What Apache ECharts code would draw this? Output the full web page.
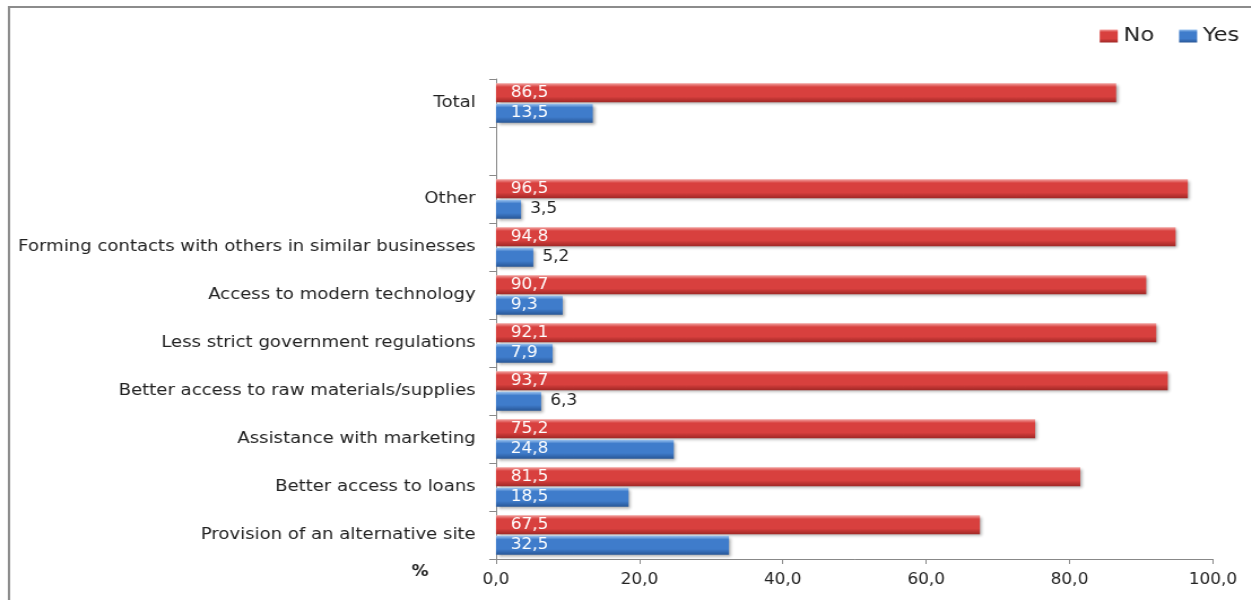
<!DOCTYPE html>
<html>
<head>
<meta charset="utf-8">
<script src="https://cdn.jsdelivr.net/npm/echarts@6/dist/echarts.min.js"></script>
<style>
  html, body { margin: 0; padding: 0; background: #fff; overflow: hidden; }
  #wrap { width: 1251px; height: 600px; overflow: hidden; }
  /* the chart is laid out narrower and widened, giving the broad lettering */
  #chart { width: 1107px; height: 600px; transform: scaleX(1.13); transform-origin: 0 0; }
</style>
</head>
<body>
<div id="wrap"><div id="chart"></div></div>
<script>
// Categories listed bottom to top (category y axis starts at the bottom)
const categories = [
  'Provision of an alternative site',
  'Better access to loans',
  'Assistance with marketing',
  'Better access to raw materials/supplies',
  'Less strict government regulations',
  'Access to modern technology',
  'Forming contacts with others in similar businesses',
  'Other',
  '',
  'Total'
];
const noValues  = [67.5, 81.5, 75.2, 93.7, 92.1, 90.7, 94.8, 96.5, null, 86.5];
const yesValues = [32.5, 18.5, 24.8, 6.3, 7.9, 9.3, 5.2, 3.5, null, 13.5];
const xTicks = { min: 0, max: 100, interval: 20 };

const S = 1.13;               // horizontal widening applied to the chart box
const px = v => v / S;        // page x -> chart x
const FONT = 'DejaVu Sans';
const fmt = v => v.toFixed(1).replace('.', ',');

function barGradient(light, mid, dark) {
  return new echarts.graphic.LinearGradient(0, 0, 0, 1, [
    { offset: 0, color: light },
    { offset: 0.2, color: mid },
    { offset: 0.7, color: mid },
    { offset: 1, color: dark }
  ]);
}
const redFill = barGradient('#f4a3a1', '#d8403e', '#a02826');
const blueFill = barGradient('#9cc4f0', '#3f7ccb', '#285797');

// Short bars get their label just outside, in dark text
function withLabels(values) {
  return values.map(v => {
    if (v == null) return v;
    const small = v < 7;
    return {
      value: v,
      label: small
        ? { position: 'right', color: '#222', distance: 8 }
        : { position: 'insideLeft', color: '#fff', distance: 13 }
    };
  });
}

const barShadow = {
  shadowColor: 'rgba(0,0,0,0.35)', shadowBlur: 3, shadowOffsetX: 2, shadowOffsetY: 2
};

const chart = echarts.init(document.getElementById('chart'));
chart.setOption({
  animation: false,
  textStyle: { fontFamily: FONT },
  graphic: [
    {
      type: 'rect',
      shape: { x: px(9), y: 7, width: 1400, height: 800 },
      style: { fill: 'none', stroke: '#8c8c8c', lineWidth: 2 },
      silent: true
    },
    {
      type: 'text',
      x: px(420), y: 572,
      style: {
        text: '%', fontFamily: FONT, fontSize: 15, fontWeight: 'bold', fill: '#222',
        align: 'center', verticalAlign: 'middle'
      }
    }
  ],
  legend: {
    right: px(6), top: 21,
    itemWidth: 16, itemHeight: 13, itemGap: 22,
    icon: 'rect',
    textStyle: { fontFamily: FONT, fontSize: 20, color: '#222' },
    data: ['No', 'Yes']
  },
  grid: { left: px(496), right: px(38), top: 79, bottom: 41, containLabel: false },
  xAxis: {
    type: 'value',
    min: xTicks.min, max: xTicks.max, interval: xTicks.interval,
    axisLine: { show: true, lineStyle: { color: '#888', width: 1 } },
    axisTick: { show: true, length: 5, lineStyle: { color: '#888' } },
    splitLine: { show: false },
    axisLabel: { fontFamily: FONT, fontSize: 15, color: '#222', margin: 14, formatter: fmt }
  },
  yAxis: {
    type: 'category',
    data: categories,
    axisLine: { show: true, lineStyle: { color: '#888', width: 1 } },
    axisTick: { show: true, length: 6, lineStyle: { color: '#888' } },
    axisLabel: { fontFamily: FONT, fontSize: 16, color: '#222', margin: 18 }
  },
  series: [
    {
      name: 'No', type: 'bar',
      data: withLabels(noValues),
      barWidth: 19, barGap: '8%',
      itemStyle: Object.assign({ color: redFill }, barShadow),
      label: { show: true, fontFamily: FONT, fontSize: 15, formatter: p => fmt(p.value) }
    },
    {
      name: 'Yes', type: 'bar',
      data: withLabels(yesValues),
      barWidth: 19,
      itemStyle: Object.assign({ color: blueFill }, barShadow),
      label: { show: true, fontFamily: FONT, fontSize: 15, formatter: p => fmt(p.value) }
    }
  ]
});
</script>
</body>
</html>
